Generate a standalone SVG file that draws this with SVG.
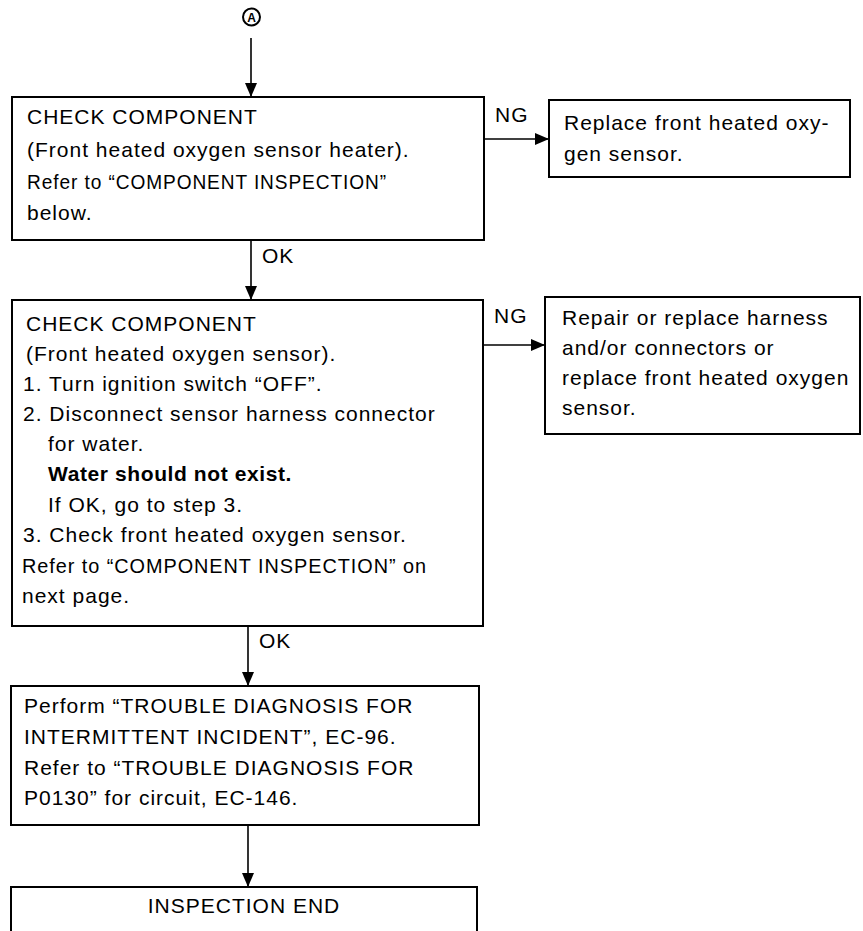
<svg xmlns="http://www.w3.org/2000/svg" width="863" height="931" viewBox="0 0 863 931">
<style>
.box{fill:#fff;stroke:#000;stroke-width:2}
.t{font-family:"Liberation Sans",Arial,sans-serif;font-size:21px;fill:#000;letter-spacing:1px}
.b{font-weight:bold;letter-spacing:0.6px}
.c{stroke:#000;stroke-width:1.6;fill:none}
</style>
<defs>
<marker id="ah" viewBox="0 0 14 12" refX="14" refY="6" markerWidth="14" markerHeight="12" markerUnits="userSpaceOnUse" orient="auto">
<path d="M0,0 L14,6 L0,12 z" fill="#000"/>
</marker>
</defs>
<g id="start">
<circle cx="251.5" cy="17" r="8.5" fill="#fff" stroke="#000" stroke-width="2"/>
<text x="251.5" y="21.5" text-anchor="middle" font-family="Liberation Sans,Arial,sans-serif" font-size="12" font-weight="bold">A</text>
</g>
<g id="connectors">
<line class="c" x1="251" y1="38" x2="251" y2="97" marker-end="url(#ah)"/>
<line class="c" x1="251" y1="240" x2="251" y2="300" marker-end="url(#ah)"/>
<line class="c" x1="484" y1="139" x2="549" y2="139" marker-end="url(#ah)"/>
<line class="c" x1="483" y1="345" x2="545" y2="345" marker-end="url(#ah)"/>
<line class="c" x1="248" y1="626" x2="248" y2="686" marker-end="url(#ah)"/>
<line class="c" x1="248" y1="825" x2="248" y2="887" marker-end="url(#ah)"/>
<text class="t" x="495" y="122">NG</text>
<text class="t" x="262" y="263">OK</text>
<text class="t" x="494" y="323">NG</text>
<text class="t" x="259" y="648">OK</text>
</g>
<g id="check1">
<rect class="box" x="12" y="97" width="472" height="143"/>
<text class="t" x="27" y="124">CHECK COMPONENT</text>
<text class="t" x="27" y="157">(Front heated oxygen sensor heater).</text>
<text class="t" x="27" y="189" textLength="360" lengthAdjust="spacingAndGlyphs">Refer to “COMPONENT INSPECTION”</text>
<text class="t" x="27" y="220">below.</text>
</g>
<g id="replace1">
<rect class="box" x="549" y="100" width="301" height="77"/>
<text class="t" x="564" y="130">Replace front heated oxy-</text>
<text class="t" x="564" y="161">gen sensor.</text>
</g>
<g id="check2">
<rect class="box" x="12" y="300" width="471" height="326"/>
<text class="t" x="26" y="331">CHECK COMPONENT</text>
<text class="t" x="26" y="361">(Front heated oxygen sensor).</text>
<text class="t" x="23" y="391">1. Turn ignition switch “OFF”.</text>
<text class="t" x="23" y="421">2. Disconnect sensor harness connector</text>
<text class="t" x="48" y="451">for water.</text>
<text class="t b" x="48" y="481">Water should not exist.</text>
<text class="t" x="48" y="512">If OK, go to step 3.</text>
<text class="t" x="23" y="542">3. Check front heated oxygen sensor.</text>
<text class="t" x="22" y="573" textLength="405" lengthAdjust="spacingAndGlyphs">Refer to “COMPONENT INSPECTION” on</text>
<text class="t" x="22" y="603">next page.</text>
</g>
<g id="repair2">
<rect class="box" x="545" y="297" width="315" height="137"/>
<text class="t" x="562" y="325">Repair or replace harness</text>
<text class="t" x="562" y="355">and/or connectors or</text>
<text class="t" x="562" y="385">replace front heated oxygen</text>
<text class="t" x="562" y="415">sensor.</text>
</g>
<g id="perform">
<rect class="box" x="11" y="686" width="468" height="139"/>
<text class="t" x="24" y="713">Perform “TROUBLE DIAGNOSIS FOR</text>
<text class="t" x="24" y="744">INTERMITTENT INCIDENT”, EC-96.</text>
<text class="t" x="24" y="775">Refer to “TROUBLE DIAGNOSIS FOR</text>
<text class="t" x="24" y="805">P0130” for circuit, EC-146.</text>
</g>
<g id="end">
<rect class="box" x="11" y="887" width="466" height="60"/>
<text class="t" x="244" y="913" text-anchor="middle">INSPECTION END</text>
</g>
</svg>
